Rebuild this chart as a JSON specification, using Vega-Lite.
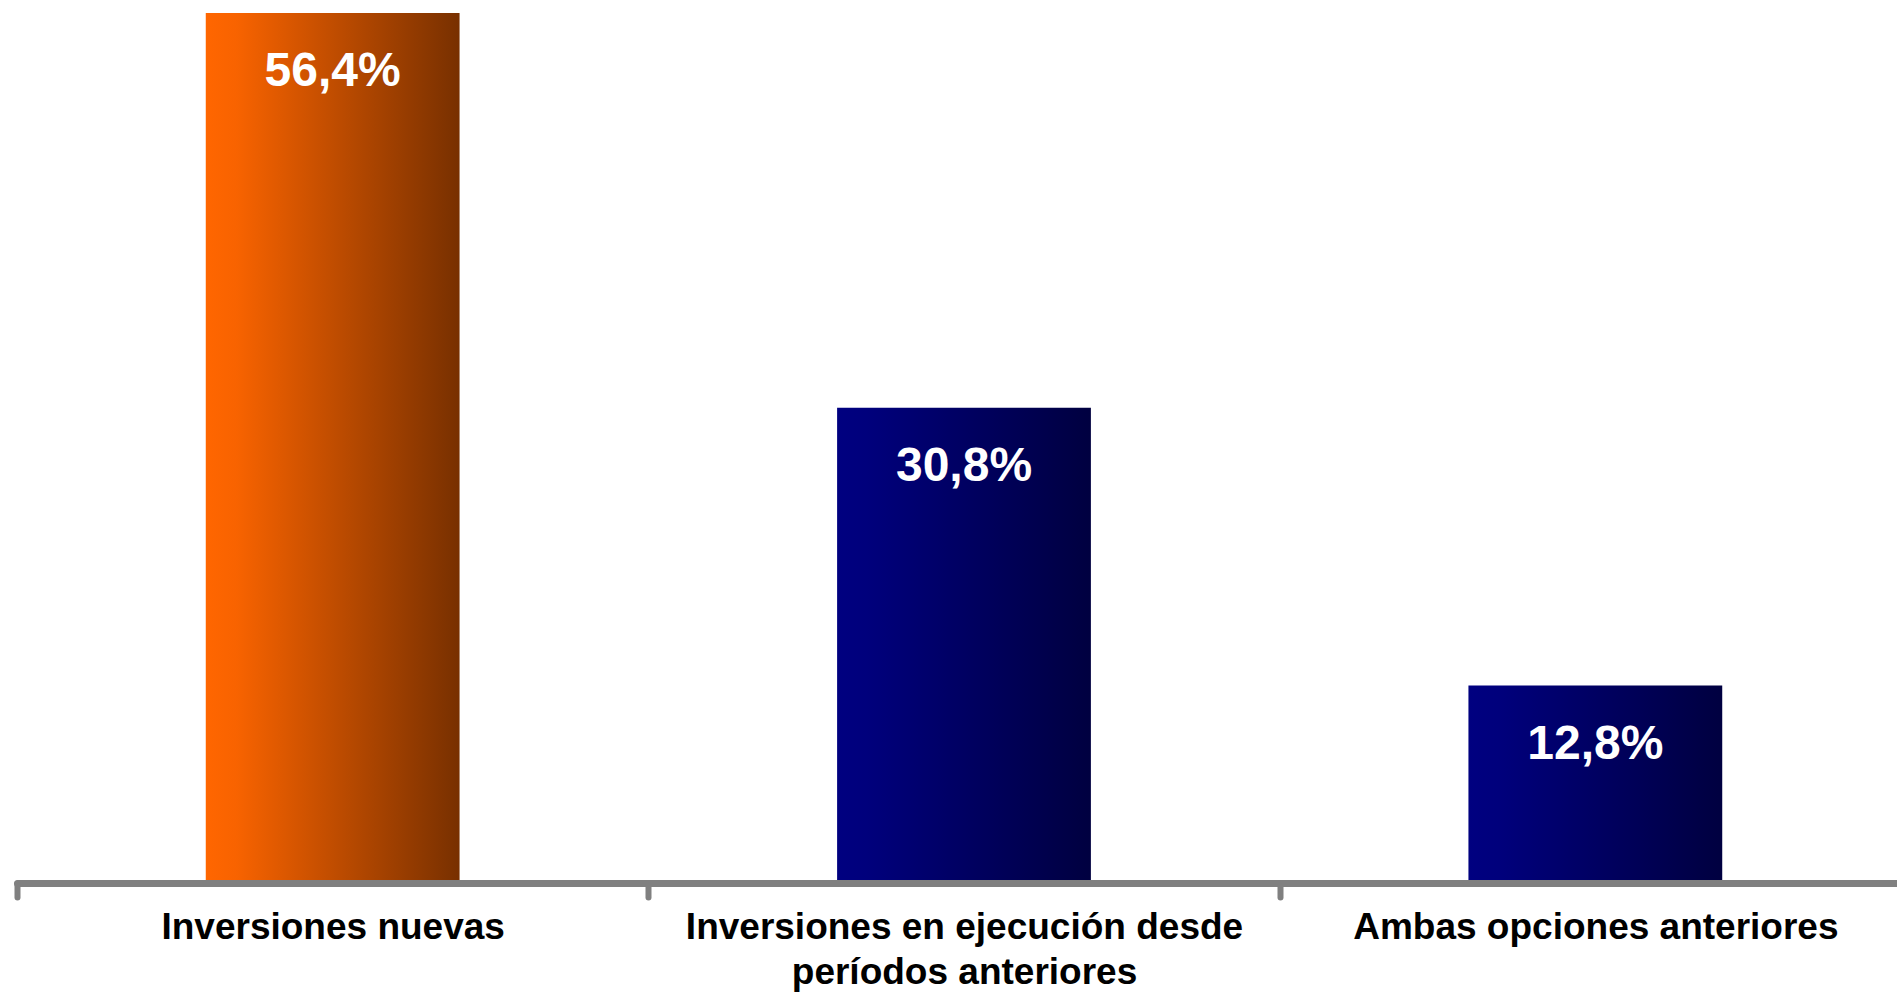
{
  "$schema": "https://vega.github.io/schema/vega-lite/v6.json",
  "width": 1880,
  "height": 883,
  "autosize": {"type": "none"},
  "padding": {"left": 17, "top": 0, "right": 0, "bottom": 110},
  "background": "white",
  "config": {
    "view": {"stroke": null},
    "locale": {"number": {"decimal": ",", "thousands": ".", "grouping": [3], "currency": ["", " €"]}}
  },
  "data": {
    "values": [
      {"categoria": "Inversiones nuevas", "valor": 0.564},
      {"categoria": "Inversiones en ejecución desde períodos anteriores", "valor": 0.308},
      {"categoria": "Ambas opciones anteriores", "valor": 0.128}
    ]
  },
  "encoding": {
    "x": {
      "field": "categoria",
      "type": "nominal",
      "sort": null,
      "scale": {"paddingInner": 0, "paddingOuter": 0, "range": [0, 1894]},
      "axis": {
        "title": null,
        "labelAngle": 0,
        "labelFont": "Liberation Sans",
        "labelFontWeight": "bold",
        "labelFontSize": 37,
        "labelColor": "black",
        "labelPadding": 12,
        "labelLineHeight": 45,
        "labelBound": false,
        "labelOverlap": false,
        "labelLimit": 0,
        "labelExpr": "datum.value === 'Inversiones en ejecución desde períodos anteriores' ? ['Inversiones en ejecución desde', 'períodos anteriores'] : datum.value",
        "tickBand": "extent",
        "ticks": true,
        "tickSize": 14,
        "tickWidth": 6,
        "tickColor": "#808080",
        "tickCap": "round",
        "domainColor": "#808080",
        "domainWidth": 7,
        "domainCap": "round",
        "zindex": 1
      }
    },
    "y": {
      "field": "valor",
      "type": "quantitative",
      "scale": {"domain": [0, 0.5724], "nice": false, "zero": true},
      "axis": null
    }
  },
  "layer": [
    {
      "mark": {"type": "bar", "width": {"band": 0.402}},
      "encoding": {
        "fill": {
          "condition": {
            "test": "datum.categoria === 'Inversiones nuevas'",
            "value": {
              "gradient": "linear",
              "x1": 0, "y1": 0, "x2": 1, "y2": 0,
              "stops": [
                {"offset": 0, "color": "#FF6600"},
                {"offset": 0.12, "color": "#F86300"},
                {"offset": 1, "color": "#783000"}
              ]
            }
          },
          "value": {
            "gradient": "linear",
            "x1": 0, "y1": 0, "x2": 1, "y2": 0,
            "stops": [
              {"offset": 0, "color": "#000080"},
              {"offset": 0.12, "color": "#00007C"},
              {"offset": 1, "color": "#000040"}
            ]
          }
        }
      }
    },
    {
      "mark": {
        "type": "text",
        "font": "Liberation Sans",
        "fontWeight": "bold",
        "fontSize": 48,
        "fill": "white",
        "baseline": "middle",
        "align": "center",
        "dy": 59
      },
      "encoding": {
        "text": {"field": "valor", "type": "quantitative", "format": ".1%"}
      }
    }
  ]
}
